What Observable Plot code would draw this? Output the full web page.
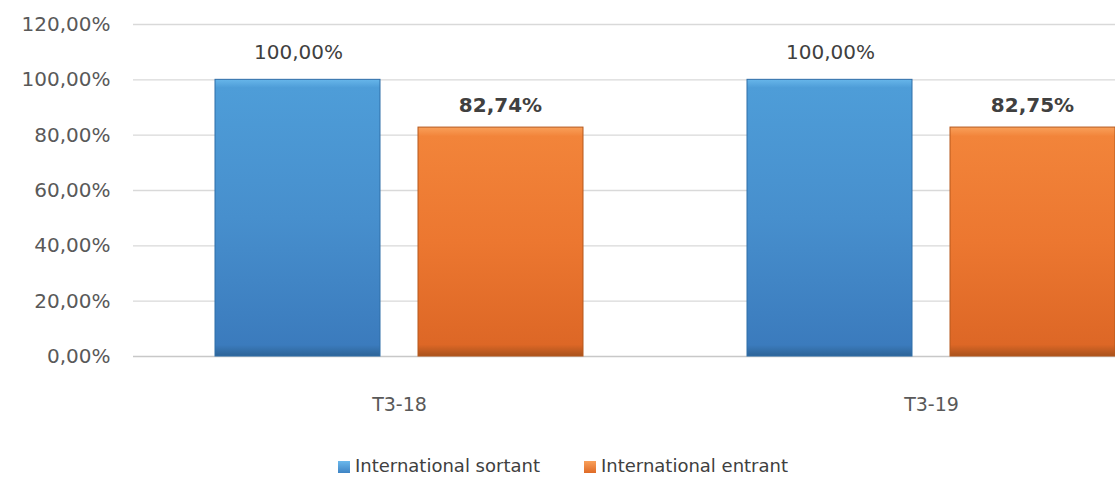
<!DOCTYPE html>
<html><head><meta charset="utf-8">
<script src="https://cdn.jsdelivr.net/npm/d3@7"></script>
<script src="https://cdn.jsdelivr.net/npm/@observablehq/plot@0.6"></script>
<style>
body{margin:0;background:#fff;font-family:"DejaVu Sans",sans-serif;overflow:hidden;width:1115px;height:483px}
#legend{position:absolute;left:0;top:455px;width:1126px;text-align:center;font-size:18px;color:#404040;white-space:nowrap}
#legend span.sw{display:inline-block;width:12px;height:12px;margin-right:5px;vertical-align:-1px}
#legend span.item{margin:0 22px}
</style></head>
<body>
<div id="chart"></div>
<div id="legend"></div>
<script>
const periods = ["T3-18", "T3-19"];
const seriesNames = ["International sortant", "International entrant"];
const sortant = [100, 100];
const entrant = [82.74, 82.75];
const yTicks = [0, 20, 40, 60, 80, 100, 120];

const fmt = d => d.toFixed(2).replace(".", ",") + "%";
const dataS = periods.map((p, i) => ({period: p, value: sortant[i]}));
const dataE = periods.map((p, i) => ({period: p, value: entrant[i]}));

const W = 1115, H = 445;
const chart = Plot.plot({
  width: W, height: H,
  marginLeft: 133, marginRight: 0, marginTop: 24, marginBottom: 89,
  style: {fontFamily: "DejaVu Sans, sans-serif", fontSize: "19px", color: "#595959", background: "white", overflow: "hidden"},
  x: {domain: periods, range: [133, 1197], padding: 0, label: null},
  y: {domain: [0, 120], range: [356, 24], label: null},
  marks: [
    Plot.ruleY(yTicks.filter(d => d > 0), {stroke: "#d9d9d9", strokeWidth: 1.3}),
    Plot.ruleY([0], {stroke: "#c8c8c8", strokeWidth: 1.5}),
    Plot.barY(dataS, {x: "period", y: "value", fill: "url(#gBlue)", stroke: "#2f6ea8", strokeWidth: 1, insetLeft: 82, insetRight: 285}),
    Plot.barY(dataE, {x: "period", y: "value", fill: "url(#gOrange)", stroke: "#b5581d", strokeWidth: 1, insetLeft: 285, insetRight: 82}),
    Plot.text(dataS, {x: "period", y: "value", text: d => fmt(d.value), dx: -101, dy: -27, fill: "#404040", fontSize: 20}),
    Plot.text(dataE, {x: "period", y: "value", text: d => fmt(d.value), dx: 101, dy: -22, fill: "#404040", fontSize: 20, fontWeight: "bold"}),
    Plot.axisY({ticks: yTicks, tickFormat: fmt, tickSize: 0, tickPadding: 23, fontSize: 20, fill: "#595959"}),
    Plot.axisX({tickSize: 0, tickPadding: 41, fontSize: 19, fill: "#595959"})
  ]
});

const ns = "http://www.w3.org/2000/svg";
const defs = document.createElementNS(ns, "defs");
defs.innerHTML = `
<linearGradient id="gBlue" x1="0" y1="0" x2="0" y2="1">
  <stop offset="0" stop-color="#67b6ea"/>
  <stop offset="0.03" stop-color="#4e9dd8"/>
  <stop offset="0.5" stop-color="#478fcd"/>
  <stop offset="0.96" stop-color="#3b7bbd"/>
  <stop offset="1" stop-color="#2d6497"/>
</linearGradient>
<linearGradient id="gOrange" x1="0" y1="0" x2="0" y2="1">
  <stop offset="0" stop-color="#f9a05a"/>
  <stop offset="0.04" stop-color="#f2843a"/>
  <stop offset="0.5" stop-color="#ec7730"/>
  <stop offset="0.95" stop-color="#dd6726"/>
  <stop offset="1" stop-color="#a9521c"/>
</linearGradient>`;
chart.insertBefore(defs, chart.firstChild);
document.getElementById("chart").appendChild(chart);

const colors = ["linear-gradient(#6ab8ec,#3f84c4)", "linear-gradient(#f9a05a,#df6a26)"];
document.getElementById("legend").innerHTML = seriesNames.map((n, i) =>
  `<span class="item"><span class="sw" style="background:${colors[i]}"></span>${n}</span>`).join("");
</script>
</body></html>
